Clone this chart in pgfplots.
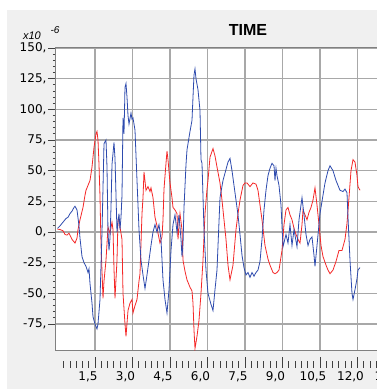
\documentclass[border=0pt]{standalone}
\usepackage{pgfplots}
\pgfplotsset{compat=1.18}
\usepackage{fontspec}
\setmainfont{Liberation Sans}
\newfontfamily\tickfont{DejaVu Sans}
\definecolor{panel}{HTML}{F0F0F0}
\definecolor{gridc}{HTML}{A8A8A8}
\definecolor{framec}{HTML}{808080}
\definecolor{tickc}{HTML}{404040}
\definecolor{sigred}{HTML}{F52828}
\definecolor{sigblue}{HTML}{2E4BAE}
\begin{document}
\begin{tikzpicture}[x=1pt,y=1pt]
\useasboundingbox (0,0) rectangle (377,389);
\clip (0,0) rectangle (377,389);
\fill[white] (0,0) rectangle (377,389);
\fill[panel] (7,0) rectangle (377,379);
\begin{axis}[
  at={(55pt,38pt)}, anchor=south west,
  scale only axis, width=386pt, height=303pt,
  xmin=-0.1, xmax=15.34, ymin=-97, ymax=150,
  axis background/.style={fill=white},
  axis line style={draw=framec, line width=1pt},
  xtick={1.5,3,...,13.5}, xticklabels={},
  x tick style={draw=none},
  ytick={-75,-50,...,150},
  yticklabels={{-75,},{-50,},{-25,},{0,},{25,},{50,},{75,},{100,},{125,},{150,}},
  minor y tick num=4,
  ytick align=outside, ytick pos=left,
  major tick length=7pt, minor tick length=2pt,
  y tick style={draw=tickc, line width=0.8pt},
  yticklabel style={font=\tickfont\fontsize{12}{12}\selectfont, xshift=2pt},
  grid=major,
  major grid style={draw=gridc, line width=1.3pt},
]
\addplot[sigred, line width=0.8pt] coordinates {
(0,2.4) (0.1,2) (0.22,1) (0.3,-2) (0.38,-2.5) (0.46,-1) (0.58,-6) (0.66,-8) (0.7,-9) (0.78,-5) (0.82,2) (0.9,10) (1.02,20) (1.1,30) (1.14,34) (1.22,38) (1.3,42) (1.38,53) (1.46,69) (1.54,80) (1.58,82) (1.62,75) (1.66,55) (1.7,29) (1.74,-10) (1.82,-54) (1.86,-40) (1.94,-23) (2.02,4) (2.1,-1) (2.18,8) (2.22,2) (2.26,-30) (2.3,-54) (2.38,-23) (2.42,10) (2.46,11) (2.5,4) (2.58,-6) (2.62,-50) (2.7,-75) (2.74,-85) (2.82,-64) (2.9,-58) (2.98,-55) (3.02,-66) (3.1,-60) (3.18,-55) (3.26,-40) (3.3,-34) (3.38,15) (3.42,28) (3.46,49) (3.54,34) (3.62,37) (3.7,33) (3.74,36) (3.82,28) (3.9,12) (3.98,5) (4.02,-1) (4.1,-9) (4.18,-4) (4.22,10) (4.26,35) (4.34,56) (4.38,66) (4.42,59) (4.5,40) (4.58,28) (4.62,20) (4.7,18) (4.78,15) (4.82,-6) (4.9,15) (4.98,2) (5.02,-23) (5.1,-32) (5.18,-39) (5.3,-45) (5.38,-48) (5.42,-58) (5.46,-80) (5.5,-95) (5.58,-85) (5.66,-72) (5.74,-50) (5.82,-23) (5.9,15) (5.98,35) (6.02,42) (6.1,61) (6.22,68) (6.3,62) (6.38,53) (6.5,40) (6.58,26) (6.66,10) (6.74,-6) (6.82,-27) (6.9,-39) (7.02,-27) (7.14,2) (7.22,15) (7.3,26) (7.42,38) (7.5,40) (7.58,40) (7.7,37) (7.82,40) (7.94,39) (8.02,34) (8.1,22) (8.18,10) (8.3,-11) (8.42,-22) (8.5,-27) (8.62,-33) (8.7,-34) (8.78,-33) (8.86,-31) (8.98,-15) (9.06,6) (9.14,18) (9.22,20) (9.3,14) (9.38,10) (9.46,3) (9.54,-2) (9.62,-6) (9.7,-9) (9.78,6) (9.82,18) (9.9,14) (9.98,10) (10.06,16) (10.14,20) (10.22,26) (10.3,36) (10.38,22) (10.46,6) (10.54,-11) (10.62,-20) (10.74,-27) (10.82,-31) (10.9,-34) (11.02,-31) (11.14,-24) (11.26,-15) (11.38,-15) (11.5,-6) (11.58,7) (11.66,28) (11.74,50) (11.82,59) (11.9,57) (11.98,46) (12.02,37) (12.1,34)
};
\addplot[sigblue, line width=0.8pt] coordinates {
(0,3) (0.1,5) (0.22,8) (0.34,11) (0.42,12) (0.5,15) (0.58,17) (0.66,20) (0.7,21) (0.78,18) (0.86,5) (0.9,-5) (0.98,-20) (1.06,-25) (1.14,-28) (1.22,-33) (1.26,-30) (1.3,-42) (1.38,-58) (1.42,-69) (1.5,-75) (1.58,-79) (1.62,-75) (1.7,-55) (1.78,0) (1.86,72) (1.94,75) (1.98,53) (2.02,0) (2.06,-15) (2.1,-5) (2.14,20) (2.18,55) (2.26,73) (2.3,60) (2.34,30) (2.38,0) (2.42,8) (2.46,15) (2.5,2) (2.54,12) (2.58,30) (2.62,93) (2.66,80) (2.7,118) (2.74,121) (2.78,110) (2.82,95) (2.86,88) (2.94,97) (2.98,92) (3.02,93) (3.1,83) (3.18,42) (3.26,2) (3.34,-23) (3.42,-35) (3.5,-46) (3.58,-35) (3.66,-23) (3.74,-11) (3.82,0) (3.9,6) (3.98,0) (4.06,6) (4.14,-6) (4.22,-39) (4.3,-55) (4.38,-66) (4.46,-47) (4.54,-15) (4.62,6) (4.7,14) (4.78,0) (4.86,14) (4.94,-6) (4.98,-20) (5.02,-10) (5.06,20) (5.14,55) (5.18,67) (5.3,82) (5.38,91) (5.42,110) (5.46,128) (5.5,133) (5.54,125) (5.62,116) (5.7,99) (5.74,59) (5.78,56) (5.86,2) (5.94,-31) (6.02,-50) (6.14,-59) (6.22,-64) (6.3,-47) (6.38,-31) (6.5,28) (6.62,42) (6.7,48) (6.82,57) (6.9,60) (6.98,50) (7.06,38) (7.14,26) (7.22,14) (7.3,-2) (7.38,-19) (7.46,-29) (7.54,-35) (7.62,-33) (7.7,-37) (7.78,-33) (7.86,-36) (7.94,-33) (8.02,-31) (8.1,-24) (8.18,-6) (8.26,18) (8.34,34) (8.42,46) (8.5,52) (8.58,56) (8.66,54) (8.7,42) (8.74,52) (8.78,46) (8.86,38) (8.94,22) (9.02,-12) (9.14,-2) (9.22,-9) (9.3,6) (9.38,-11) (9.46,2) (9.58,-12) (9.66,10) (9.78,28) (9.86,14) (9.94,-2) (10.02,-11) (10.1,-6) (10.18,-4) (10.26,-19) (10.3,-28) (10.38,-11) (10.5,15) (10.62,30) (10.7,40) (10.82,50) (10.9,54) (11.02,50) (11.14,42) (11.3,34) (11.42,33) (11.5,35) (11.58,32) (11.62,12) (11.7,-23) (11.78,-50) (11.82,-55) (11.9,-47) (11.98,-38) (12.02,-31) (12.1,-29)
};
\end{axis}
\begin{axis}[
  at={(55pt,21pt)}, anchor=south west,
  scale only axis, width=386pt, height=5pt,
  xmin=-0.1, xmax=15.34, ymin=0, ymax=1,
  hide y axis,
  axis x line*=bottom,
  x axis line style={draw=none},
  xtick={1.5,3,...,13.5},
  xticklabels={{1,5},{3,0},{4,5},{6,0},{7,5},{9,0},{10,5},{12,0},{13,5}},
  minor xtick={0.25,0.5,...,15},
  xtick align=inside,
  major tick length=11pt, minor tick length=7pt,
  x tick style={draw=tickc, line width=0.8pt},
  xticklabel style={anchor=north, xshift=-7pt, font=\tickfont\fontsize{12}{12}\selectfont},
]
\end{axis}
\node[font=\bfseries\fontsize{16}{16}\selectfont] at (248,359) {TIME};
\node[font=\itshape\fontsize{11}{11}\selectfont] at (32,353) {x10};
\node[font=\itshape\fontsize{10}{10}\selectfont, anchor=west] at (47,359) {-6};
\end{tikzpicture}
\end{document}
